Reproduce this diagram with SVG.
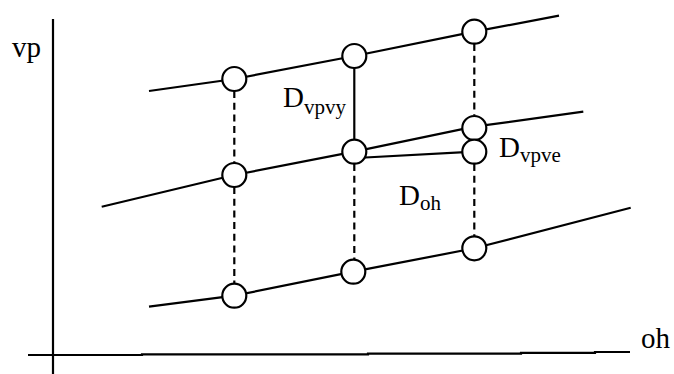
<svg xmlns="http://www.w3.org/2000/svg" width="674" height="374" viewBox="0 0 674 374">
  <style>
    .ln { fill: none; stroke: #000; stroke-width: 2.2; }
    .dash { fill: none; stroke: #000; stroke-width: 2.2; stroke-dasharray: 7 4.7; }
    .node circle { fill: #fff; stroke: #000; stroke-width: 2.2; }
    .t { font-family: "Liberation Serif", "Times New Roman", serif; fill: #000; }
    .big { font-size: 29px; }
    .sub { font-size: 21px; }
  </style>
  <rect width="674" height="374" fill="#fff"/>

  <!-- axes -->
  <g id="axes">
    <line class="ln" x1="53" y1="19" x2="53" y2="374"/>
    <polyline class="ln" points="28,355 142,355 142,354.3 368,354.3 368,353.6 521,353.6 521,352.8 595,352.8 595,352 630,352"/>
    <text class="t big" x="12" y="57">vp</text>
    <text class="t big" x="641" y="348">oh</text>
  </g>

  <!-- connectors -->
  <g id="connectors">
    <!-- family lines -->
    <polyline class="ln" points="149,91 234.3,79 354.3,56 474.3,31.7 559,15.7"/>
    <polyline class="ln" points="101.7,206.7 234.3,175 354.3,151.7 474.3,126.7 583.3,111.7"/>
    <polyline class="ln" points="149,306.7 234.3,295.7 353.3,271.7 474.3,248.3 630.7,207.7"/>
    <line class="ln" x1="356" y1="158" x2="474.3" y2="151.7"/>
    <!-- verticals -->
    <line class="dash" x1="234.3" y1="91" x2="234.3" y2="163"/>
    <line class="dash" x1="234.3" y1="187" x2="234.3" y2="284"/>
    <line class="ln" x1="354.3" y1="68" x2="354.3" y2="140"/>
    <line class="dash" x1="354.3" y1="164" x2="354.3" y2="260"/>
    <line class="dash" x1="474.3" y1="44" x2="474.3" y2="115"/>
    <line class="dash" x1="474.3" y1="164" x2="474.3" y2="236"/>
  </g>

  <!-- nodes -->
  <g id="n-top-1" class="node"><circle cx="234.3" cy="79" r="12"/></g>
  <g id="n-top-2" class="node"><circle cx="354.3" cy="56" r="12"/></g>
  <g id="n-top-3" class="node"><circle cx="474.3" cy="31.7" r="12"/></g>
  <g id="n-mid-1" class="node"><circle cx="234.3" cy="175" r="12"/></g>
  <g id="n-mid-2" class="node"><circle cx="354.3" cy="151.7" r="12"/></g>
  <g id="n-mid-3" class="node"><circle cx="474.3" cy="128" r="12"/></g>
  <g id="n-mid-3b" class="node"><circle cx="474.3" cy="151.7" r="12"/></g>
  <g id="n-bot-1" class="node"><circle cx="234.3" cy="295.7" r="12"/></g>
  <g id="n-bot-2" class="node"><circle cx="353.3" cy="271.7" r="12"/></g>
  <g id="n-bot-3" class="node"><circle cx="474.3" cy="248.3" r="12"/></g>

  <!-- distance labels -->
  <g id="labels">
    <text class="t" x="283" y="107.3"><tspan class="big">D</tspan><tspan class="sub" dy="7">vpvy</tspan></text>
    <text class="t" x="499" y="156.7"><tspan class="big">D</tspan><tspan class="sub" dy="5">vpve</tspan></text>
    <text class="t" x="399" y="205"><tspan class="big">D</tspan><tspan class="sub" dy="5">oh</tspan></text>
  </g>
</svg>
